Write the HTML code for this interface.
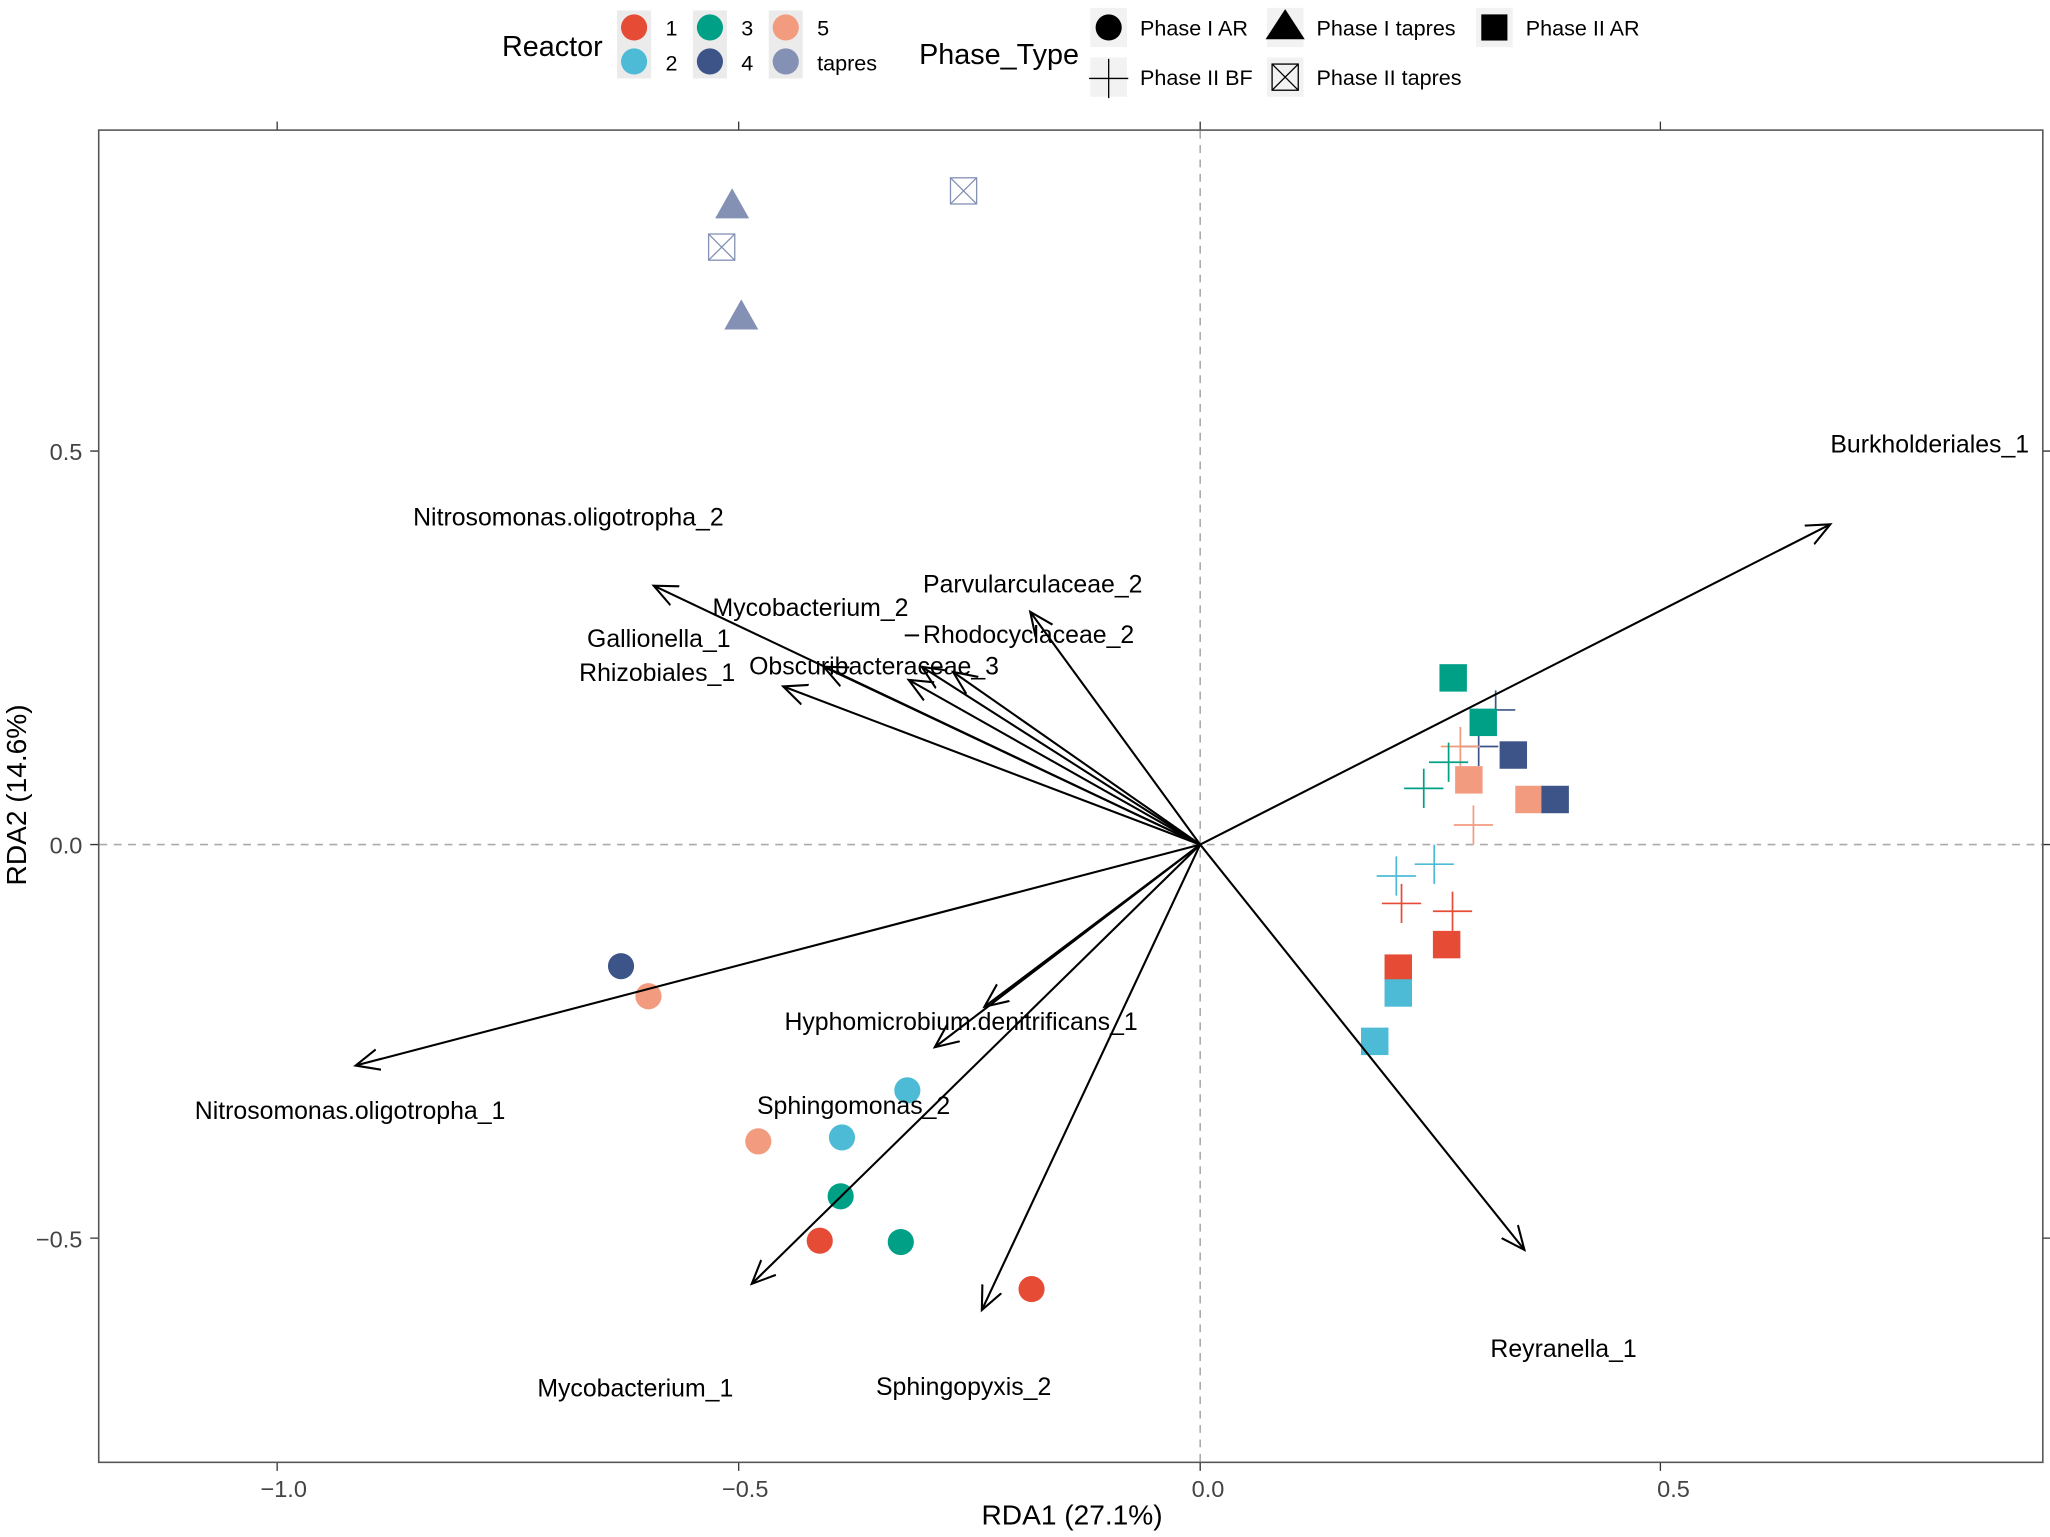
<!DOCTYPE html>
<html><head><meta charset="utf-8"><style>
html,body{margin:0;padding:0;background:#fff;}
svg{display:block;}
text{font-family:"Liberation Sans",Arial,sans-serif;}
</style></head><body>
<svg width="2050" height="1537" viewBox="0 0 1568 1175.6" xmlns="http://www.w3.org/2000/svg">
<rect width="1568" height="1176" fill="#fff"/>
<!-- Legend -->
<text x="384" y="43" font-size="22">Reactor</text>
<g>
<rect x="472" y="8" width="26" height="26" fill="#ebebeb"/><rect x="472" y="34" width="26" height="26" fill="#ebebeb"/>
<rect x="530" y="8" width="26" height="26" fill="#ebebeb"/><rect x="530" y="34" width="26" height="26" fill="#ebebeb"/>
<rect x="588" y="8" width="26" height="26" fill="#ebebeb"/><rect x="588" y="34" width="26" height="26" fill="#ebebeb"/>
<circle cx="485" cy="21" r="10" fill="#E64B35"/><circle cx="485" cy="47" r="10" fill="#4DBBD5"/>
<circle cx="543" cy="21" r="10" fill="#00A087"/><circle cx="543" cy="47" r="10" fill="#3C5488"/>
<circle cx="601" cy="21" r="10" fill="#F39B7F"/><circle cx="601" cy="47" r="10" fill="#8491B4"/>
<text x="509" y="27" font-size="16.5">1</text><text x="509" y="54" font-size="16.5">2</text>
<text x="567" y="27" font-size="16.5">3</text><text x="567" y="54" font-size="16.5">4</text>
<text x="625" y="27" font-size="16.5">5</text><text x="625" y="54" font-size="16.5">tapres</text>
</g>
<text x="703" y="49" font-size="22">Phase_Type</text>
<rect x="834" y="6" width="28" height="30" fill="#f2f2f2"/>
<circle cx="848" cy="21" r="10" fill="#000"/>
<text x="872" y="27" font-size="16.5">Phase I AR</text>
<rect x="969" y="6" width="28" height="30" fill="#f2f2f2"/>
<polygon points="983,7 998,30 968,30" fill="#000"/>
<text x="1007" y="27" font-size="16.5">Phase I tapres</text>
<rect x="1129" y="6" width="28" height="30" fill="#f2f2f2"/>
<rect x="1133" y="11" width="20" height="20" fill="#000"/>
<text x="1167" y="27" font-size="16.5">Phase II AR</text>
<rect x="834" y="44" width="28" height="30" fill="#f2f2f2"/>
<path d="M833 60H863M848 45V75" stroke="#000" stroke-width="1"/>
<text x="872" y="65" font-size="16.5">Phase II BF</text>
<rect x="969" y="44" width="28" height="30" fill="#f2f2f2"/>
<rect x="973" y="49" width="20" height="20" fill="none" stroke="#000"/>
<path d="M973 49L993 69M993 49L973 69" stroke="#000"/>
<text x="1007" y="65" font-size="16.5">Phase II tapres</text>

<!-- Panel -->
<rect x="75.5" y="99.5" width="1487" height="1019" fill="none" stroke="#555" stroke-width="1.2"/>
<g stroke="#333" stroke-width="1">
<path d="M212 93V99M565 93V99M918 93V99M1270 93V99"/>
<path d="M212 1119V1125M565 1119V1125M918 1119V1125M1270 1119V1125"/>
<path d="M69 345H75M69 646H75M69 947H75"/>
<path d="M1563 345H1569M1563 646H1569M1563 947H1569"/>
</g>
<g font-size="18" fill="#444" text-anchor="middle">
<text x="217" y="1145">−1.0</text><text x="570" y="1145">−0.5</text><text x="924" y="1145">0.0</text><text x="1280" y="1145">0.5</text>
</g>
<g font-size="18" fill="#444" text-anchor="end">
<text x="63" y="352">0.5</text><text x="63" y="653">0.0</text><text x="63" y="954">−0.5</text>
</g>
<text x="820" y="1166" font-size="21.5" text-anchor="middle">RDA1 (27.1%)</text>
<text transform="translate(20,608) rotate(-90)" font-size="21.5" text-anchor="middle">RDA2 (14.6%)</text>

<path d="M76 646H1562M918 100V1118" stroke="#aaa" stroke-width="1.2" stroke-dasharray="6,5"/>

<!-- Points -->
<g>
<circle cx="627" cy="949" r="10" fill="#E64B35"/><circle cx="789" cy="986" r="10" fill="#E64B35"/>
<circle cx="694" cy="834" r="10" fill="#4DBBD5"/><circle cx="644" cy="870" r="10" fill="#4DBBD5"/>
<circle cx="643" cy="915" r="10" fill="#00A087"/><circle cx="689" cy="950" r="10" fill="#00A087"/>
<circle cx="475" cy="739" r="10" fill="#3C5488"/>
<circle cx="496" cy="762" r="10" fill="#F39B7F"/><circle cx="580" cy="873" r="10" fill="#F39B7F"/>
<polygon points="560,144 573,167 547,167" fill="#8491B4"/>
<polygon points="567,229 580,252 554,252" fill="#8491B4"/>
<g stroke="#8491B4" fill="none"><rect x="542" y="179" width="20" height="20"/><path d="M542 179L562 199M562 179L542 199"/>
<rect x="727" y="136" width="20" height="20"/><path d="M727 136L747 156M747 136L727 156"/></g>
<g stroke-width="1.3">
<path d="M1129 543H1159M1144 528V558" stroke="#3C5488"/>
<path d="M1116 571H1146M1131 556V586" stroke="#3C5488"/>
<path d="M1102 571H1132M1117 556V586" stroke="#F39B7F"/>
<path d="M1093 583H1123M1108 568V598" stroke="#00A087"/>
<path d="M1074 603H1104M1089 588V618" stroke="#00A087"/>
<path d="M1112 631H1142M1127 616V646" stroke="#F39B7F"/>
<path d="M1082 661H1112M1097 646V676" stroke="#4DBBD5"/>
<path d="M1053 670H1083M1068 655V685" stroke="#4DBBD5"/>
<path d="M1057 691H1087M1072 676V706" stroke="#E64B35"/>
<path d="M1096 697H1126M1111 682V712" stroke="#E64B35"/>
</g>
<rect x="1101" y="508" width="21" height="21" fill="#00A087"/>
<rect x="1124" y="542" width="21" height="21" fill="#00A087"/>
<rect x="1147" y="567" width="21" height="21" fill="#3C5488"/>
<rect x="1113" y="586" width="21" height="21" fill="#F39B7F"/>
<rect x="1159" y="601" width="21" height="21" fill="#F39B7F"/>
<rect x="1179" y="601" width="21" height="21" fill="#3C5488"/>
<rect x="1096" y="712" width="21" height="21" fill="#E64B35"/>
<rect x="1059" y="730" width="21" height="21" fill="#E64B35"/>
<rect x="1059" y="749" width="21" height="21" fill="#4DBBD5"/>
<rect x="1041" y="786" width="21" height="21" fill="#4DBBD5"/>
</g>

<!-- Arrows -->
<defs><marker id="a" viewBox="0 0 20 20" refX="18" refY="10" markerWidth="20" markerHeight="20" markerUnits="userSpaceOnUse" orient="auto"><path d="M0 2L18 10L0 18" fill="none" stroke="#000" stroke-width="1.6"/></marker></defs>
<g stroke="#000" stroke-width="1.6" fill="none" marker-end="url(#a)">
<path d="M918 646L1400 401"/>
<path d="M918 646L1166 956"/>
<path d="M918 646L272 815"/>
<path d="M918 646L500 448"/>
<path d="M918 646L575 982"/>
<path d="M918 646L751 1002"/>
<path d="M918 646L753 770"/>
<path d="M918 646L715 801"/>
<path d="M918 646L788 468"/>
<path d="M918 646L729 514"/>
<path d="M918 646L705 510"/>
<path d="M918 646L695 520"/>
<path d="M918 646L630 510"/>
<path d="M918 646L599 525"/>
</g>
<!-- Labels -->
<g font-size="19">
<text x="1400" y="346">Burkholderiales_1</text>
<text x="1140" y="1038">Reyranella_1</text>
<text x="149" y="856">Nitrosomonas.oligotropha_1</text>
<text x="316" y="402">Nitrosomonas.oligotropha_2</text>
<text x="411" y="1068">Mycobacterium_1</text>
<text x="670" y="1067">Sphingopyxis_2</text>
<text x="600" y="788">Hyphomicrobium.denitrificans_1</text>
<text x="579" y="852">Sphingomonas_2</text>
<text x="706" y="453">Parvularculaceae_2</text>
<text x="706" y="492">Rhodocyclaceae_2</text>
<text x="545" y="471">Mycobacterium_2</text>
<text x="573" y="516">Obscuribacteraceae_3</text>
<text x="449" y="495">Gallionella_1</text>
<text x="443" y="521">Rhizobiales_1</text>
</g>
<path d="M692 486H703" stroke="#000" stroke-width="1.5"/>
</svg>
</body></html>
